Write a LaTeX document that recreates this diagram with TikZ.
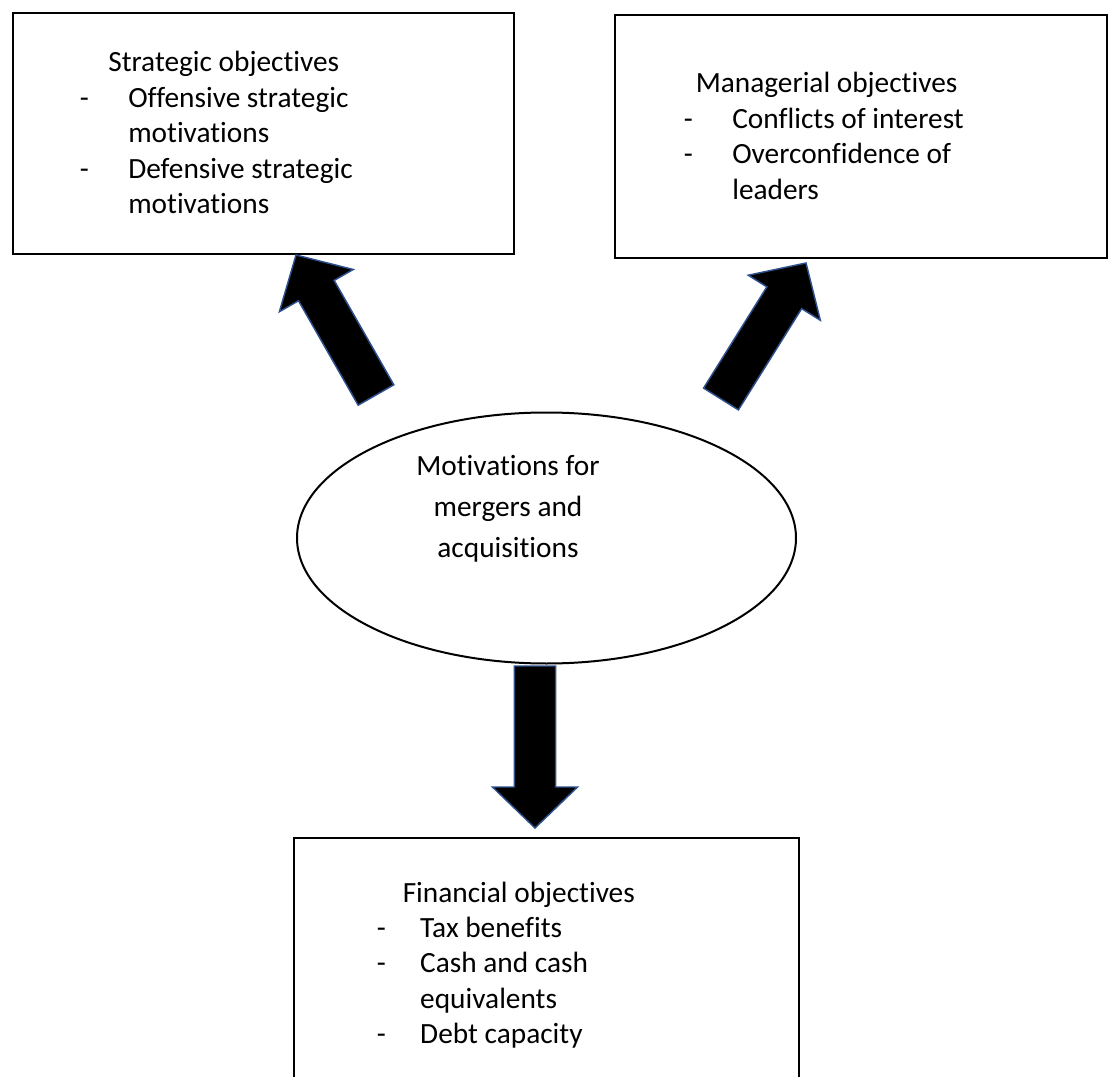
\documentclass[tikz,border=0pt]{standalone}
\usepackage{fontspec}
\setmainfont{Carlito}[Ligatures={NoCommon}]
\usetikzlibrary{calc,shapes.geometric}
\definecolor{arrowedge}{HTML}{2F528F}
\newcommand\blkarrow[2]{%
  \coordinate (#1-n) at ($(#2)!30.75pt!(#1)$);
  \draw[blockarrow]
    ($(#1)!15.4pt!90:(#2)$) --
    ($(#1-n)!15.4pt!90:(#2)$) --
    ($(#1-n)!31.9pt!90:(#2)$) --
    (#2) --
    ($(#1-n)!31.9pt!-90:(#2)$) --
    ($(#1-n)!15.4pt!-90:(#2)$) --
    ($(#1)!15.4pt!-90:(#2)$) -- cycle;}
\begin{document}
\begin{tikzpicture}[x=0.75pt,y=-0.75pt,
  box/.style={draw=black, line width=1.5pt, rectangle, anchor=north west, inner sep=0pt},
  bodytext/.style={inner sep=0pt, anchor=base west, font=\fontsize{22pt}{26.6pt}\selectfont},
  centertext/.style={inner sep=0pt, anchor=base, font=\fontsize{22pt}{30.75pt}\selectfont},
  blockarrow/.style={fill=black, draw=arrowedge, line width=1.1pt, line join=miter}]
\useasboundingbox (0,0) rectangle (1108,1077);
\clip (0,0) rectangle (1108,1077);
\fill[white] (0,0) rectangle (1108,1077);

% boxes
\node[box, minimum width=375.75pt, minimum height=180.75pt] (strat) at (12,12) {};
\node[box, minimum width=369pt, minimum height=182.25pt] (manag) at (614,14) {};
\node[box, minimum width=378.75pt, minimum height=197.25pt] (finan) at (293,837) {};

% ellipse
\node[draw=black, line width=1.5pt, ellipse, inner sep=0pt,
      minimum width=374.25pt, minimum height=188.25pt] (motiv) at (546.5,538) {};

% texts
\node[bodytext] (strattext) at (79.5,72) {\begin{tabular}[t]{@{}l@{}}
\hspace*{21.4pt}Strategic objectives\\
\makebox[36.4pt][l]{-}Offensive strategic\\
\hspace*{36.4pt}motivations\\
\makebox[36.4pt][l]{-}Defensive strategic\\
\hspace*{36.4pt}motivations
\end{tabular}};
\node[bodytext] (managtext) at (683.5,93) {\begin{tabular}[t]{@{}l@{}}
\hspace*{9pt}Managerial objectives\\
\makebox[36.4pt][l]{-}Conflicts of interest\\
\makebox[36.4pt][l]{-}Overconfidence of\\
\hspace*{36.4pt}leaders
\end{tabular}};
\node[bodytext] (finantext) at (376.5,902) {\begin{tabular}[t]{@{}l@{}}
\hspace*{19.5pt}Financial objectives\\
\makebox[32.6pt][l]{-}Tax benefits\\
\makebox[32.6pt][l]{-}Cash and cash\\
\hspace*{32.6pt}equivalents\\
\makebox[32.6pt][l]{-}Debt capacity
\end{tabular}};
\node[centertext] (motivtext) at (508,475) {\begin{tabular}[t]{@{}c@{}}
Motivations for\\ mergers and\\ acquisitions
\end{tabular}};

% arrows
\coordinate (a1t) at (376,395);
\coordinate (a1h) at (296,255);
\coordinate (a2t) at (721,399);
\coordinate (a2h) at (806,263);
\coordinate (a3t) at (535,666);
\coordinate (a3h) at (535,828);
\blkarrow{a1t}{a1h}
\blkarrow{a2t}{a2h}
\blkarrow{a3t}{a3h}
\end{tikzpicture}
\end{document}
